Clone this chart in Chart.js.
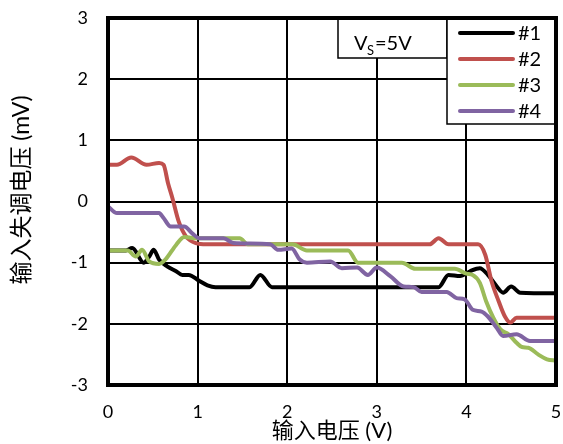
<!DOCTYPE html>
<html>
<head>
<meta charset="utf-8">
<script src="https://cdn.jsdelivr.net/npm/chart.js@4/dist/chart.umd.min.js"></script>
<style>
  body { margin: 0; background: #fff; }
</style>
</head>
<body>
<canvas id="offsetChart" width="563" height="444"></canvas>
<script>
// input voltage (V) for each device
const x1 = [0, 0.2, 0.27, 0.4, 0.46, 0.51, 0.57, 0.66, 0.76, 0.83, 0.9, 1.02, 1.11, 1.2, 1.58, 1.7, 1.83, 3.69, 3.8, 3.93, 4.04, 4.15, 4.24, 4.34, 4.41, 4.5, 4.6, 5];
const x2 = [0, 0.1, 0.26, 0.43, 0.57, 0.62, 0.67, 0.72, 0.79, 0.87, 0.98, 1.1, 3.59, 3.69, 3.8, 4.13, 4.21, 4.28, 4.36, 4.43, 4.49, 4.56, 4.65, 5];
const x3 = [0, 0.22, 0.31, 0.38, 0.46, 0.57, 0.64, 0.76, 0.85, 0.96, 1.47, 1.56, 2.06, 2.22, 2.68, 2.79, 3.28, 3.43, 3.87, 4.0, 4.07, 4.15, 4.22, 4.3, 4.38, 4.47, 4.56, 4.62, 4.69, 4.8, 4.9, 5];
const x4 = [0, 0.1, 0.57, 0.62, 0.7, 0.85, 0.94, 1.02, 1.29, 1.4, 1.81, 1.9, 2.05, 2.14, 2.22, 2.48, 2.61, 2.78, 2.9, 3.0, 3.15, 3.3, 3.41, 3.5, 3.78, 3.89, 3.98, 4.07, 4.17, 4.24, 4.34, 4.41, 4.56, 4.71, 5];

// input offset voltage (mV)
const y1 = [-0.8, -0.8, -0.76, -1.0, -0.9, -0.79, -0.95, -1.06, -1.14, -1.2, -1.2, -1.3, -1.37, -1.4, -1.4, -1.2, -1.4, -1.4, -1.2, -1.22, -1.14, -1.09, -1.2, -1.39, -1.49, -1.39, -1.49, -1.5];
const y2 = [0.6, 0.6, 0.72, 0.6, 0.63, 0.6, 0.3, 0.05, -0.33, -0.57, -0.68, -0.7, -0.7, -0.6, -0.7, -0.7, -0.87, -1.3, -1.63, -1.88, -1.98, -1.9, -1.9, -1.9];
const y3 = [-0.8, -0.8, -0.9, -0.79, -0.98, -1.02, -0.95, -0.71, -0.58, -0.6, -0.6, -0.7, -0.7, -0.8, -0.8, -1.0, -1.0, -1.1, -1.1, -1.18, -1.2, -1.33, -1.63, -1.9, -2.09, -2.17, -2.31, -2.38, -2.39, -2.5, -2.58, -2.6];
const y4 = [-0.08, -0.19, -0.19, -0.27, -0.41, -0.41, -0.52, -0.6, -0.6, -0.68, -0.7, -0.79, -0.77, -0.95, -1.0, -0.98, -1.09, -1.08, -1.2, -1.08, -1.22, -1.39, -1.4, -1.48, -1.48, -1.58, -1.6, -1.77, -1.8, -1.88, -2.07, -2.2, -2.17, -2.28, -2.28];

const seriesNames = ["#1", "#2", "#3", "#4"];
const seriesColors = ["#000000", "#C0504D", "#9BBB59", "#8064A2"];

const xAll = [x1, x2, x3, x4];
const yAll = [y1, y2, y3, y4];

const FONT = 'Lato, "Noto Sans CJK SC", sans-serif';

// box with supply note, legend box, frame and y title
const frameAndNotes = {
  id: "frameAndNotes",
  afterDraw(chart) {
    const ctx = chart.ctx;
    const a = chart.chartArea;
    ctx.save();

    // V_S = 5V note
    ctx.fillStyle = "#fff";
    ctx.strokeStyle = "#000";
    ctx.lineWidth = 1.5;
    ctx.fillRect(338, a.top, 109, 40);
    ctx.strokeRect(338, a.top, 109, 40);
    ctx.fillStyle = "#000";
    ctx.textBaseline = "alphabetic";
    ctx.textAlign = "left";
    ctx.font = "20px " + FONT;
    ctx.fillText("V", 354, 50);
    ctx.font = "13px " + FONT;
    ctx.fillText("S", 367, 55);
    ctx.font = "20px " + FONT;
    ctx.fillText("=5V", 375, 50);

    // legend
    const lx = 447, ly = a.top;
    ctx.fillStyle = "#fff";
    ctx.fillRect(lx, ly, a.right - lx, 106);
    ctx.strokeRect(lx, ly, a.right - lx, 106);
    ctx.font = "20px " + FONT;
    ctx.textBaseline = "middle";
    chart.data.datasets.forEach((ds, i) => {
      const yy = ly + 15 + i * 26;
      ctx.strokeStyle = ds.borderColor;
      ctx.lineWidth = 4;
      ctx.lineCap = "round";
      ctx.beginPath();
      ctx.moveTo(460, yy);
      ctx.lineTo(513, yy);
      ctx.stroke();
      ctx.fillStyle = "#000";
      ctx.fillText(ds.label, 518, yy + 1);
    });

    // thick frame round the plot area
    ctx.strokeStyle = "#000";
    ctx.lineWidth = 4;
    ctx.lineCap = "butt";
    ctx.strokeRect(a.left, a.top, a.right - a.left, a.bottom - a.top);

    // y axis title
    ctx.translate(22, 190);
    ctx.rotate(-Math.PI / 2);
    ctx.textAlign = "center";
    ctx.textBaseline = "middle";
    ctx.font = "23px " + FONT;
    ctx.fillStyle = "#000";
    ctx.fillText("输入失调电压 (mV)", 0, 0);
    ctx.restore();
  }
};

new Chart(document.getElementById("offsetChart"), {
  type: "line",
  data: {
    datasets: seriesNames.map((name, i) => ({
      label: name,
      data: xAll[i].map((xv, j) => ({ x: xv, y: yAll[i][j] })),
      borderColor: seriesColors[i],
      backgroundColor: seriesColors[i],
      borderWidth: 4,
      pointRadius: 0,
      cubicInterpolationMode: "monotone",
      fill: false,
      // later series sit on top, as in the original
      order: seriesNames.length - i,
    })),
  },
  options: {
    responsive: false,
    animation: false,
    devicePixelRatio: 1,
    layout: { autoPadding: false, padding: { top: 18, right: 7, left: 0, bottom: 0 } },
    plugins: {
      legend: { display: false },
      tooltip: { enabled: false },
    },
    scales: {
      x: {
        type: "linear",
        min: 0,
        max: 5,
        ticks: { stepSize: 1, padding: 16, color: "#000", font: { family: FONT, size: 18 } },
        grid: { color: "#000", lineWidth: 2, drawTicks: false },
        border: { display: false },
        title: {
          display: true,
          text: "输入电压 (V)",
          color: "#000",
          font: { family: FONT, size: 22 },
          padding: 0,
        },
        afterFit(scale) {
          scale.height = 59;
          scale.paddingLeft = 0;
          scale.paddingRight = 0;
        },
      },
      y: {
        min: -3,
        max: 3,
        ticks: { stepSize: 1, padding: 20, color: "#000", font: { family: FONT, size: 18 } },
        grid: { color: "#000", lineWidth: 2, drawTicks: false },
        border: { display: false },
        afterFit(scale) {
          scale.width = 108;
          scale.paddingTop = 0;
          scale.paddingBottom = 0;
        },
      },
    },
  },
  plugins: [frameAndNotes],
});
</script>
</body>
</html>
